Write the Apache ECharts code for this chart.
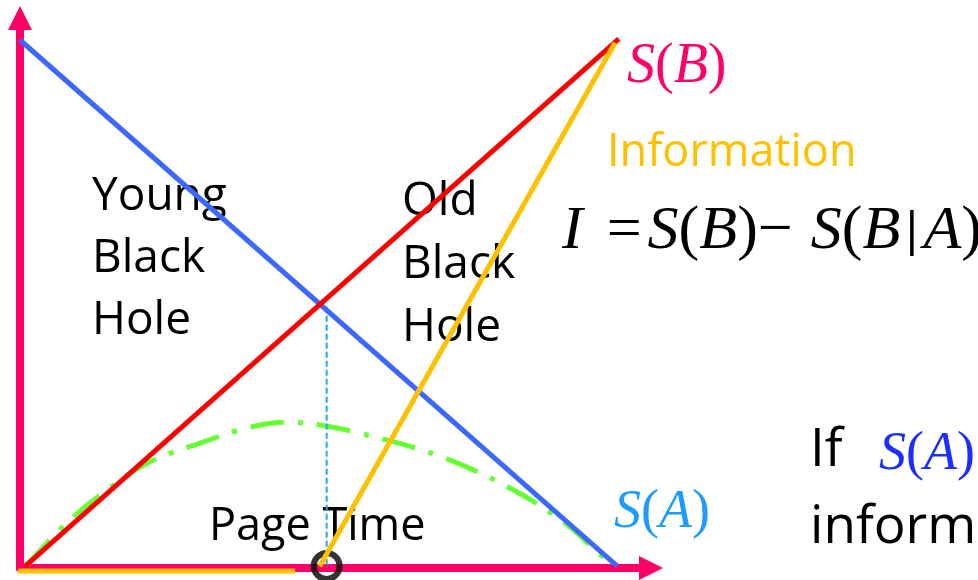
<!DOCTYPE html>
<html>
<head>
<meta charset="utf-8">
<script src="https://cdn.jsdelivr.net/npm/echarts@6/dist/echarts.min.js"></script>
<style>
  html, body { margin: 0; padding: 0; background: #fff; }
  #chart { width: 978px; height: 580px; }
</style>
</head>
<body>
<div id="chart"></div>
<script>
// data, in axis units (both axes 0..100)
const axisRange = [0, 100]
const youngLabel = ['Young', 'Black', 'Hole']
const oldLabel = ['Old', 'Black', 'Hole']
const blueLine = [[0, 96], [94.6, 0.4]]            // S(A)
const redLine = [[0.8, 0.3], [94.9, 96.2]]         // S(B)
const infoLine = [[47.5, 0.3], [94.3, 95.5]]       // information
const infoBase = [[-0.3, -0.55], [43.6, -0.55]]    // information before page time
const pageLine = [[48.6, 47.5], [48.6, 0]]         // page time marker
const pagePoint = [[48.6, 0.36]]
const pageCurve = [
  [1.1, 0.5], [7.6, 8.4], [15.1, 15.3], [20.6, 19.3], [29.0, 22.9],
  [36.5, 25.6], [42.0, 26.5], [47.5, 26.0], [53.9, 24.5], [66.1, 20.5],
  [77.7, 14.5], [86.1, 8.4], [90.3, 4.2], [93.8, 0.5]
]

const pink = '#FF0066'
const sans = '"Open Sans", sans-serif'
const serif = 'Liberation Serif'

const chart = echarts.init(document.getElementById('chart'))

function hiddenAxis() {
  return {
    type: 'value',
    min: axisRange[0],
    max: axisRange[1],
    axisLine: {
      show: true,
      symbol: ['none', 'triangle'],
      symbolSize: [24, 24],
      lineStyle: { color: pink, width: 8 }
    },
    axisTick: { show: false },
    axisLabel: { show: false },
    splitLine: { show: false }
  }
}

function mathRich(size, color) {
  const it = 'italic ' + size + 'px "' + serif + '"'
  const up = size + 'px "' + serif + '"'
  return {
    it: { font: it, fill: color },
    up: { font: up, fill: color },
    eq: { font: up, fill: color, padding: [0, 6, 0, 24] },
    minus: { font: up, fill: color, padding: [0, 18, 0, 0] },
    bar: { font: 'bold ' + Math.round(size * 0.82) + 'px "' + serif + '"', fill: color, padding: [0, 6, 0, 6] }
  }
}

function line(data, color, width, extra) {
  return Object.assign({
    type: 'line',
    data: data,
    symbol: 'none',
    clip: false,
    silent: true,
    lineStyle: { color: color, width: width }
  }, extra || {})
}

const formula = '{it|I}{eq|=}{it|S}{up|(}{it|B}{up|)}{minus|−}{it|S}{up|(}{it|B}{bar||}{it|A}{up|)}'

const option = {
  animation: false,
  backgroundColor: '#fff',
  grid: { left: 20, right: 327, top: 18, bottom: 12 },
  xAxis: hiddenAxis(),
  yAxis: hiddenAxis(),
  graphic: [
    { type: 'text', style: { text: youngLabel.join('\n'), x: 92, y: 166, font: '46px ' + sans, fill: '#000', lineHeight: 62 } },
    { type: 'text', style: { text: oldLabel.join('\n'), x: 402, y: 170, font: '46px ' + sans, fill: '#000', lineHeight: 63 } },
    { type: 'text', style: { text: 'Page Time', x: 209, y: 527, font: '45px ' + sans, fill: '#000', verticalAlign: 'middle' } },
    { type: 'text', style: { text: 'Information', x: 607, y: 153, font: '45px ' + sans, fill: '#FFC000', verticalAlign: 'middle' } },
    { type: 'text', style: { text: '{it|S}{up|(}{it|B}{up|)}', x: 627, y: 67, verticalAlign: 'middle', rich: mathRich(56, pink) } },
    { type: 'text', style: { text: formula, x: 562, y: 232, verticalAlign: 'middle', rich: mathRich(62, '#000') } },
    { type: 'text', style: { text: '{it|S}{up|(}{it|A}{up|)}', x: 614, y: 513, verticalAlign: 'middle', rich: mathRich(54, '#1E9BFF') } },
    { type: 'text', style: { text: 'If', x: 810, y: 451, font: '53px ' + sans, fill: '#000', verticalAlign: 'middle' } },
    { type: 'text', style: { text: '{it|S}{up|(}{it|A}{up|)}', x: 879, y: 455, verticalAlign: 'middle', rich: mathRich(54, '#1A2EFF') } },
    { type: 'text', style: { text: 'information', x: 810, y: 528, font: '53px ' + sans, fill: '#000', verticalAlign: 'middle' } }
  ],
  series: [
    line(pageCurve, '#66FF33', 5, { smooth: 0.4, lineStyle: { color: '#66FF33', width: 5, type: [34, 14, 5, 14] } }),
    line(pageLine, '#1EAAEE', 2, { lineStyle: { color: '#1EAAEE', width: 2, type: [6, 3] } }),
    line(blueLine, '#3D68FF', 5),
    line(redLine, '#FF0000', 5),
    line(infoBase, '#FFC000', 5),
    line(infoLine, '#FFC000', 5),
    {
      type: 'scatter',
      data: pagePoint,
      symbol: 'circle',
      symbolSize: 26,
      silent: true,
      clip: false,
      itemStyle: { color: 'transparent', borderColor: '#000', borderWidth: 6 }
    }
  ]
}

chart.setOption(option)
</script>
</body>
</html>
